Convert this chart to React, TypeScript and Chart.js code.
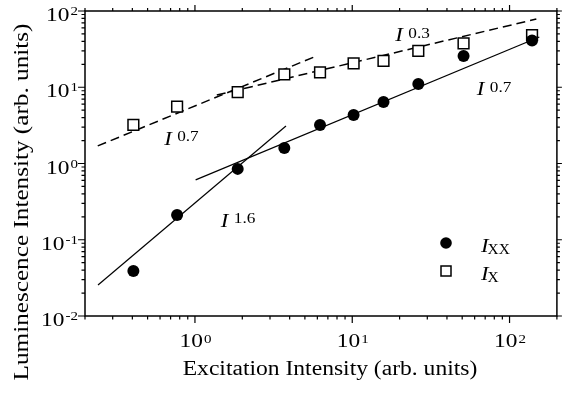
import { useEffect, useRef } from "react";
import { Chart, registerables } from "chart.js";

Chart.register(...registerables);

// ---- data ----
const excitation = [0.406, 0.77, 1.87, 3.7, 6.24, 10.2, 15.8, 26.3, 51, 139];
const ixxValues = [0.039, 0.211, 0.85, 1.6, 3.2, 4.33, 6.4, 11, 25.7, 41];
const ixValues = [3.2, 5.56, 8.6, 14.8, 15.7, 20.6, 22.1, 29.9, 37.7, 48.4];

// power-law guide lines (end points)
const fit16X = [0.242, 3.79];
const fit16Y = [0.0255, 3.1];
const fit07X = [1.01, 154.6];
const fit07Y = [0.61, 45.6];
const dash07X = [0.241, 5.71];
const dash07Y = [1.7, 24.9];
const dash03X = [1.377, 148];
const dash03Y = [7.91, 78.5];

// axes
const xMajor = [1, 10, 100];
const xExp = ["0", "1", "2"];
const yMajor = [0.01, 0.1, 1, 10, 100];
const yExp = ["-2", "-1", "0", "1", "2"];
const xRange = [0.2, 200];
const yRange = [0.01, 100];

// annotations: exponent label, anchor (data coords)
const annoText = ["0.7", "0.3", "0.7", "1.6"];
const annoX = [0.637, 18.8, 61.9, 1.46];
const annoY = [1.75, 40.4, 7.91, 0.147];

const legendSubs = ["XX", "X"];

const SERIF = "'Liberation Serif', 'Times New Roman', serif";
const STRETCH = 1.2;

function drawText(
  ctx: CanvasRenderingContext2D,
  text: string,
  x: number,
  y: number,
  font: string,
  align: "left" | "center" | "right" = "left",
  scale = STRETCH
) {
  ctx.save();
  ctx.font = font;
  const w = ctx.measureText(text).width * scale;
  let left = x;
  if (align === "center") left = x - w / 2;
  if (align === "right") left = x - w;
  ctx.translate(left, y);
  ctx.scale(scale, 1);
  ctx.textAlign = "left";
  ctx.textBaseline = "alphabetic";
  ctx.fillStyle = "#000";
  ctx.fillText(text, 0, 0);
  ctx.restore();
  return w;
}

function measure(ctx: CanvasRenderingContext2D, text: string, font: string, scale = STRETCH) {
  ctx.save();
  ctx.font = font;
  const w = ctx.measureText(text).width * scale;
  ctx.restore();
  return w;
}

const pts = (xs: number[], ys: number[]) => xs.map((x, i) => ({ x, y: ys[i] }));

const decorPlugin = {
  id: "decor",
  afterDatasetsDraw(chart: any) {
    const ctx: CanvasRenderingContext2D = chart.ctx;
    const xs = chart.scales.x;
    const ys = chart.scales.y;
    const { left, right, top, bottom } = chart.chartArea;
    ctx.save();
    ctx.strokeStyle = "#000";
    ctx.fillStyle = "#000";

    // frame
    ctx.lineWidth = 1.5;
    ctx.strokeRect(left, top, right - left, bottom - top);

    // ticks (outward)
    ctx.lineWidth = 1.2;
    const major = 7;
    const minor = 3.5;
    const xLog0 = Math.floor(Math.log10(xRange[0]));
    const xLog1 = Math.ceil(Math.log10(xRange[1]));
    for (let e = xLog0; e <= xLog1; e++) {
      for (let m = 1; m <= 9; m++) {
        const v = m * Math.pow(10, e);
        if (v < xRange[0] * 0.999 || v > xRange[1] * 1.001) continue;
        const px = xs.getPixelForValue(v);
        const len = m === 1 ? major : minor;
        ctx.beginPath();
        ctx.moveTo(px, bottom);
        ctx.lineTo(px, bottom + len);
        ctx.moveTo(px, top);
        ctx.lineTo(px, top - (m === 1 ? 6 : 3));
        ctx.stroke();
      }
    }
    const yLog0 = Math.floor(Math.log10(yRange[0]));
    const yLog1 = Math.ceil(Math.log10(yRange[1]));
    for (let e = yLog0; e <= yLog1; e++) {
      for (let m = 1; m <= 9; m++) {
        const v = m * Math.pow(10, e);
        if (v < yRange[0] * 0.999 || v > yRange[1] * 1.001) continue;
        const py = ys.getPixelForValue(v);
        const len = m === 1 ? major : minor;
        ctx.beginPath();
        ctx.moveTo(left, py);
        ctx.lineTo(left - len, py);
        ctx.moveTo(right, py);
        ctx.lineTo(right + (m === 1 ? 5 : 3), py);
        ctx.stroke();
      }
    }

    // x tick labels
    const baseFont = `19.5px ${SERIF}`;
    const expFont = `12.5px ${SERIF}`;
    xMajor.forEach((v, i) => {
      const px = xs.getPixelForValue(v);
      const w1 = measure(ctx, "10", baseFont);
      const w2 = measure(ctx, xExp[i], expFont);
      const x0 = px - (w1 + w2) / 2;
      drawText(ctx, "10", x0, bottom + 31, baseFont);
      drawText(ctx, xExp[i], x0 + w1 + 1, bottom + 27, expFont);
    });
    // y tick labels
    yMajor.forEach((v, i) => {
      const py = ys.getPixelForValue(v);
      const w2 = measure(ctx, yExp[i], expFont);
      const rightEdge = left - 7;
      drawText(ctx, yExp[i], rightEdge - w2, py + 4, expFont);
      drawText(ctx, "10", rightEdge - w2 - 1, py + 10, baseFont, "right");
    });

    // axis titles
    drawText(ctx, "Excitation Intensity (arb. units)", 330, 375, `20.5px ${SERIF}`, "center", 1.15);
    ctx.save();
    ctx.translate(28, 202);
    ctx.rotate(-Math.PI / 2);
    drawText(ctx, "Luminescence Intensity (arb. units)", 0, 0, `21px ${SERIF}`, "center", 1.2);
    ctx.restore();

    // power-law annotations
    annoText.forEach((t, i) => {
      const px = xs.getPixelForValue(annoX[i]);
      const py = ys.getPixelForValue(annoY[i]);
      drawText(ctx, "I", px, py, `italic 19px ${SERIF}`);
      drawText(ctx, t, px + 13, py - 3.5, `15px ${SERIF}`, "left", 1.15);
    });

    // legend
    const lx = 446;
    const rows = [243, 271];
    ctx.beginPath();
    ctx.arc(lx, rows[0], 5.8, 0, Math.PI * 2);
    ctx.fill();
    ctx.lineWidth = 1.5;
    ctx.fillStyle = "#fff";
    ctx.fillRect(lx - 5, rows[1] - 5, 10, 10);
    ctx.strokeRect(lx - 5, rows[1] - 5, 10, 10);
    ctx.fillStyle = "#000";
    legendSubs.forEach((s, i) => {
      const base = rows[i] + 9;
      const w = drawText(ctx, "I", 481, base, `italic 19px ${SERIF}`);
      drawText(ctx, s, 481 + w - 1, base + 1.5, `14px ${SERIF}`, "left", 1.1);
    });

    ctx.restore();
  },
};

export default function App() {
  const ref = useRef<HTMLCanvasElement | null>(null);
  useEffect(() => {
    if (!ref.current) return;
    const chart = new Chart(ref.current, {
      type: "scatter",
      data: {
        datasets: [
          {
            label: "IXX",
            data: pts(excitation, ixxValues),
            pointStyle: "circle",
            pointRadius: 6,
            backgroundColor: "#000",
            borderColor: "#000",
            borderWidth: 0,
            showLine: false,
            order: 0,
          },
          {
            label: "IX",
            data: pts(excitation, ixValues),
            pointStyle: "rect",
            pointRadius: 7.6,
            backgroundColor: "#fff",
            borderColor: "#000",
            borderWidth: 1.5,
            showLine: false,
            order: 1,
          },
          {
            label: "fit16",
            data: pts(fit16X, fit16Y),
            showLine: true,
            pointRadius: 0,
            borderColor: "#000",
            borderWidth: 1.2,
            order: 2,
          },
          {
            label: "fit07",
            data: pts(fit07X, fit07Y),
            showLine: true,
            pointRadius: 0,
            borderColor: "#000",
            borderWidth: 1.2,
            order: 3,
          },
          {
            label: "dash07",
            data: pts(dash07X, dash07Y),
            showLine: true,
            pointRadius: 0,
            borderColor: "#000",
            borderWidth: 1.5,
            borderDash: [9, 5],
            order: 4,
          },
          {
            label: "dash03",
            data: pts(dash03X, dash03Y),
            showLine: true,
            pointRadius: 0,
            borderColor: "#000",
            borderWidth: 1.5,
            borderDash: [9, 5],
            order: 5,
          },
        ],
      },
      options: {
        responsive: false,
        animation: false,
        devicePixelRatio: 1,
        layout: { padding: { left: 85, right: 4, top: 11, bottom: 78 } },
        plugins: { legend: { display: false }, tooltip: { enabled: false }, title: { display: false } },
        scales: {
          x: { type: "logarithmic", min: xRange[0], max: xRange[1], display: false },
          y: { type: "logarithmic", min: yRange[0], max: yRange[1], display: false },
        },
      },
      plugins: [decorPlugin],
    });
    return () => chart.destroy();
  }, []);
  return (
    <canvas
      ref={ref}
      width={566}
      height={394}
      style={{ position: "fixed", left: 0, top: 0, background: "#fff" }}
    />
  );
}
